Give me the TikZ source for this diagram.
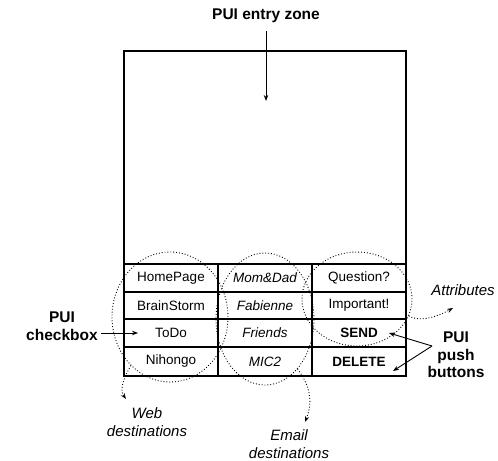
\documentclass[tikz,border=0pt]{standalone}
\usepackage{fontspec}
\setmainfont{Liberation Sans}
\usetikzlibrary{shapes.geometric,arrows.meta}
\begin{document}
\begin{tikzpicture}[x=1bp,y=-1bp,
  frame/.style={line width=1.2bp},
  zone/.style={draw,dotted,line width=0.9bp,ellipse,inner sep=0pt},
  cell/.style={font=\fontsize{13.5bp}{15bp}\selectfont,fill=white,inner sep=1bp},
  lab/.style={font=\fontsize{15bp}{17.5bp}\selectfont\itshape,align=center,inner sep=1bp},
  blab/.style={font=\fontsize{15.5bp}{17.5bp}\selectfont\bfseries,align=center,inner sep=1bp},
  arr/.style={-{Stealth[length=6bp,width=4.5bp]},line width=0.9bp},
  darr/.style={dotted,line width=0.9bp,-{Stealth[length=6bp,width=4.5bp,line width=0pt,fill=black]}}]
\useasboundingbox (0,0) rectangle (498,461);
% frame
\draw[frame] (124,51) rectangle (406,376);
\draw[frame] (124,264) -- (406,264);
\draw[frame] (124,292) -- (406,292);
\draw[frame] (124,319) -- (406,319);
\draw[frame] (124,347) -- (406,347);
\draw[frame] (218,264) -- (218,376);
\draw[frame] (312,264) -- (312,376);
% dotted zones
\node[zone,minimum width=116bp,minimum height=130bp] (web) at (170,317) {};
\node[zone,minimum width=98bp,minimum height=132bp] (mail) at (265,319) {};
\node[zone,minimum width=110bp,minimum height=94bp] (attr) at (357,299) {};
% cells
\node[cell] (c11) at (171,278) {HomePage};
\node[cell] (c21) at (171,305.5) {BrainStorm};
\node[cell] (c31) at (171,333) {ToDo};
\node[cell] (c41) at (171,361.5) {Nihongo};
\node[cell,font=\fontsize{13.5bp}{15bp}\selectfont\itshape] (c12) at (265,278) {Mom\&Dad};
\node[cell,font=\fontsize{13.5bp}{15bp}\selectfont\itshape] (c22) at (265,305.5) {Fabienne};
\node[cell,font=\fontsize{13.5bp}{15bp}\selectfont\itshape] (c32) at (265,333) {Friends};
\node[cell,font=\fontsize{13.5bp}{15bp}\selectfont\itshape] (c42) at (265,361.5) {MIC2};
\node[cell] (c13) at (359,278) {Question?};
\node[cell] (c23) at (359,305.5) {Important!};
\node[cell,font=\fontsize{13.5bp}{15bp}\selectfont\bfseries] (c33) at (359,333) {SEND};
\node[cell,font=\fontsize{13.5bp}{15bp}\selectfont\bfseries] (c43) at (359,361.5) {DELETE};
% labels
\node[blab] (entry) at (266,16) {PUI entry zone};
\coordinate (entryend) at (266,101);
\draw[arr] (266,31) -- (entryend);
\node[blab] (chk) at (62,326) {PUI\\checkbox};
\coordinate (chkend) at (138,333);
\draw[arr] (chk.east |- chkend) ++(2,0) -- (chkend);
\node[blab] (push) at (456,355) {PUI\\push\\buttons};
\coordinate (pushfrom) at (432,346);
\coordinate (sendend) at (389,333);
\coordinate (delend) at (393,371);
\draw[arr] (pushfrom) -- (sendend);
\draw[arr] (pushfrom) -- (delend);
\node[lab] (attrl) at (463,290) {Attributes};
\coordinate (attrend) at (453,308);
\draw[darr] (attr.342) .. controls (418,322) and (435,318) .. (attrend);
\node[lab] (webl) at (147,422) {Web\\destinations};
\coordinate (webend) at (126,399);
\draw[darr] (web.231) .. controls (120,385) and (121,392) .. (webend);
\node[lab] (maill) at (289,444) {Email\\destinations};
\coordinate (mailend) at (305,422);
\draw[darr] (mail.303) .. controls (310,385) and (313,402) .. (mailend);
\end{tikzpicture}
\end{document}
